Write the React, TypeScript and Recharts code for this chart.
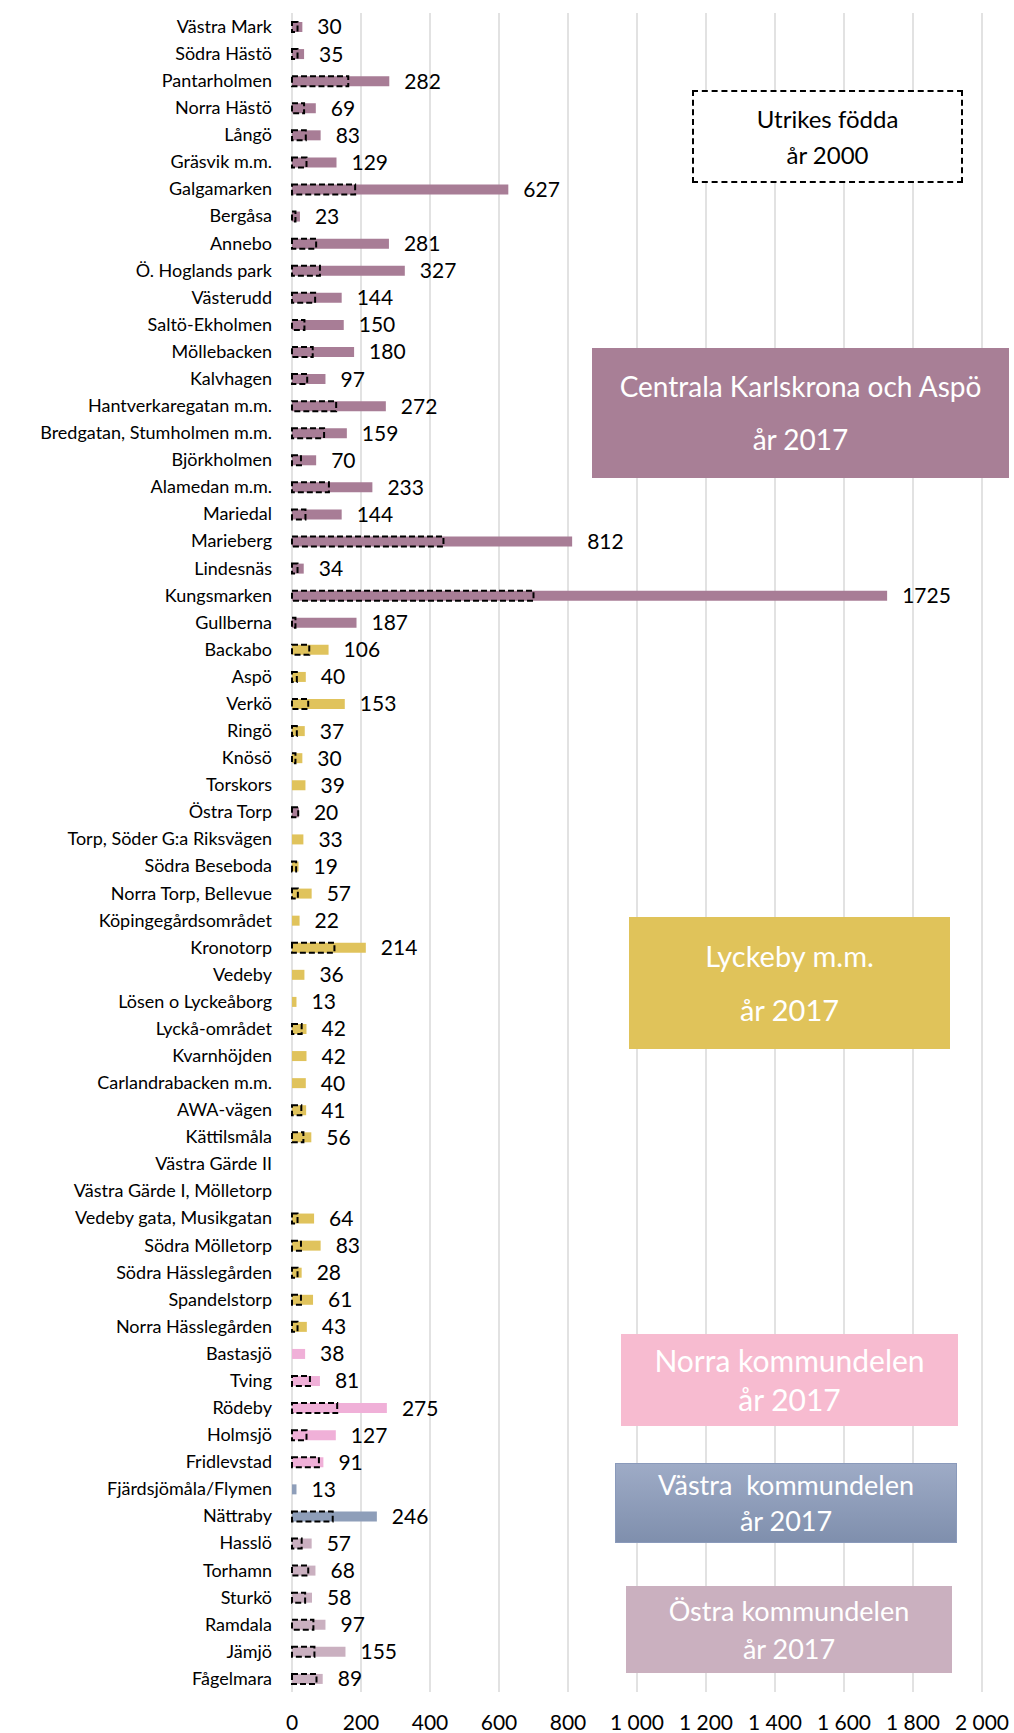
import React from 'react';
import { BarChart, Bar, XAxis, YAxis, CartesianGrid, Cell, LabelList } from 'recharts';

const categories = [
  'Västra Mark', 'Södra Hästö', 'Pantarholmen', 'Norra Hästö', 'Långö', 'Gräsvik m.m.',
  'Galgamarken', 'Bergåsa', 'Annebo', 'Ö. Hoglands park', 'Västerudd', 'Saltö-Ekholmen',
  'Möllebacken', 'Kalvhagen', 'Hantverkaregatan m.m.', 'Bredgatan, Stumholmen m.m.',
  'Björkholmen', 'Alamedan m.m.', 'Mariedal', 'Marieberg', 'Lindesnäs', 'Kungsmarken',
  'Gullberna', 'Backabo', 'Aspö', 'Verkö', 'Ringö', 'Knösö', 'Torskors', 'Östra Torp',
  'Torp, Söder G:a Riksvägen', 'Södra Beseboda', 'Norra Torp, Bellevue', 'Köpingegårdsområdet',
  'Kronotorp', 'Vedeby', 'Lösen o Lyckeåborg', 'Lyckå-området', 'Kvarnhöjden',
  'Carlandrabacken m.m.', 'AWA-vägen', 'Kättilsmåla', 'Västra Gärde II',
  'Västra Gärde I, Mölletorp', 'Vedeby gata, Musikgatan', 'Södra Mölletorp',
  'Södra Hässlegården', 'Spandelstorp', 'Norra Hässlegården', 'Bastasjö', 'Tving', 'Rödeby',
  'Holmsjö', 'Fridlevstad', 'Fjärdsjömåla/Flymen', 'Nättraby', 'Hasslö', 'Torhamn', 'Sturkö',
  'Ramdala', 'Jämjö', 'Fågelmara',
];

// utrikes födda år 2017
const values2017 = [
  30, 35, 282, 69, 83, 129, 627, 23, 281, 327, 144, 150, 180, 97, 272, 159, 70, 233, 144, 812,
  34, 1725, 187, 106, 40, 153, 37, 30, 39, 20, 33, 19, 57, 22, 214, 36, 13, 42, 42, 40, 41, 56,
  null, null, 64, 83, 28, 61, 43, 38, 81, 275, 127, 91, 13, 246, 57, 68, 58, 97, 155, 89,
];

// utrikes födda år 2000 (estimated from the dashed bars)
const values2000 = [
  16, 16, 163, 35, 40, 42, 183, 10, 70, 81, 67, 36, 60, 44, 128, 93, 26, 107, 39, 439, 16, 700,
  10, 50, 14, 47, 14, 10, null, 18, null, 12, 17, null, 123, null, null, 28, null, null, 27, 33,
  null, null, 16, 26, 16, 26, 16, null, 52, 131, 42, 78, null, 118, 28, 47, 38, 62, 65, 71,
];

const regions = [
  'C', 'C', 'C', 'C', 'C', 'C', 'C', 'C', 'C', 'C', 'C', 'C', 'C', 'C', 'C', 'C', 'C', 'C', 'C',
  'C', 'C', 'C', 'C', 'L', 'L', 'L', 'L', 'L', 'L', 'C', 'L', 'L', 'L', 'L', 'L', 'L', 'L', 'L',
  'L', 'L', 'L', 'L', 'L', 'L', 'L', 'L', 'L', 'L', 'L', 'N', 'N', 'N', 'N', 'N', 'V', 'V', 'O',
  'O', 'O', 'O', 'O', 'O',
];

const xTicks = [0, 200, 400, 600, 800, 1000, 1200, 1400, 1600, 1800, 2000];

const regionColor: Record<string, string> = {
  C: '#a87d96',
  L: '#e0c35c',
  N: '#f0b0d8',
  V: '#8e9eb9',
  O: '#cab0c0',
};

const data = categories.map((name, i) => ({
  name,
  v2017: values2017[i],
  v2000: values2000[i],
  region: regions[i],
}));

const font = 'Lato, "Open Sans", sans-serif';

const fmtTick = (v: number) =>
  v >= 1000 ? `${Math.floor(v / 1000)} ${String(v % 1000).padStart(3, '0')}` : String(v);

const boxStyle = (left: number, top: number, w: number, h: number, bg: string): React.CSSProperties => ({
  position: 'absolute',
  left,
  top,
  width: w,
  height: h,
  background: bg,
  color: '#fff',
  display: 'flex',
  flexDirection: 'column',
  alignItems: 'center',
  justifyContent: 'space-evenly',
  fontFamily: font,
  textAlign: 'center',
  lineHeight: 1.1,
});

export default function App() {
  return (
    <div style={{ position: 'absolute', left: 0, top: 0, width: 1014, height: 1733, background: '#fff' }}>
      <BarChart
        layout="vertical"
        width={1014}
        height={1733}
        data={data}
        margin={{ top: 13, right: 32, bottom: 0, left: 0 }}
        barSize={10}
        barGap={-10}
      >
        <CartesianGrid horizontal={false} stroke="#d9d9d9" strokeWidth={1.5} />
        <XAxis
          type="number"
          domain={[0, 2000]}
          ticks={xTicks}
          tickFormatter={fmtTick}
          axisLine={false}
          tickLine={false}
          tickMargin={17}
          height={41}
          tick={{ fontSize: 21, fill: '#000', fontFamily: font }}
        />
        <YAxis
          type="category"
          dataKey="name"
          width={292}
          interval={0}
          axisLine={false}
          tickLine={false}
          tickMargin={14}
          tick={{ fontSize: 18, fill: '#000', fontFamily: font }}
        />
        <Bar dataKey="v2017" isAnimationActive={false}>
          {data.map((d, i) => (
            <Cell key={i} fill={regionColor[d.region]} />
          ))}
          <LabelList
            dataKey="v2017"
            position="right"
            offset={15}
            formatter={(v: any) => (v == null ? '' : v)}
            style={{ fontSize: 21, fill: '#000', fontFamily: font }}
          />
        </Bar>
        <Bar
          dataKey="v2000"
          fill="none"
          stroke="#000"
          strokeWidth={2}
          strokeDasharray="6 3"
          isAnimationActive={false}
        />
      </BarChart>

      <div
        style={{
          ...boxStyle(692, 90, 271, 93, '#fff'),
          color: '#000',
          border: '2px dashed #000',
          boxSizing: 'border-box',
          fontSize: 24,
          justifyContent: 'center',
          lineHeight: 1.5,
        }}
      >
        <div>Utrikes födda</div>
        <div>år 2000</div>
      </div>

      <div style={{ ...boxStyle(592, 348, 417, 130, '#a87f96'), fontSize: 28 }}>
        <div>Centrala Karlskrona och Aspö</div>
        <div>år 2017</div>
      </div>

      <div style={{ ...boxStyle(629, 917, 321, 132, '#e0c35a'), fontSize: 29 }}>
        <div>Lyckeby m.m.</div>
        <div>år 2017</div>
      </div>

      <div style={{ ...boxStyle(621, 1334, 337, 92, '#f7bbd0'), fontSize: 30, justifyContent: 'center', lineHeight: 1.3 }}>
        <div>Norra kommundelen</div>
        <div>år 2017</div>
      </div>

      <div
        style={{
          ...boxStyle(615, 1463, 342, 80, 'linear-gradient(#9eabc6, #7f8fad)'),
          fontSize: 27,
          justifyContent: 'center',
          lineHeight: 1.35,
          border: '1px solid #8a9abb',
          boxSizing: 'border-box',
        }}
      >
        <div style={{ whiteSpace: 'pre' }}>Västra  kommundelen</div>
        <div>år 2017</div>
      </div>

      <div style={{ ...boxStyle(626, 1586, 326, 87, '#cab0bf'), fontSize: 27, justifyContent: 'center', lineHeight: 1.4 }}>
        <div>Östra kommundelen</div>
        <div>år 2017</div>
      </div>
    </div>
  );
}
